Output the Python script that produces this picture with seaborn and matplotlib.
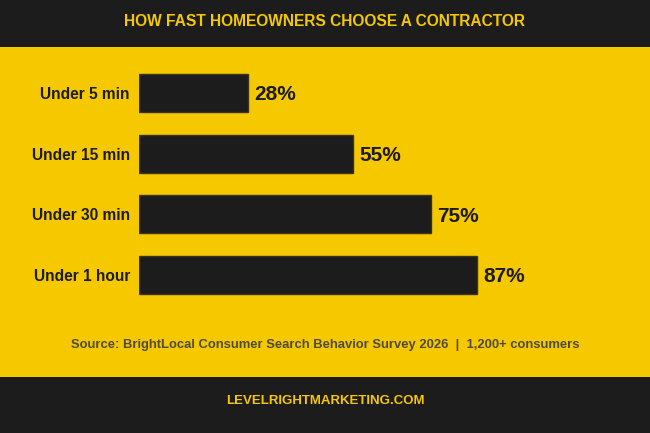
import matplotlib
matplotlib.use("Agg")
import matplotlib.pyplot as plt
import seaborn as sns
import pandas as pd
from matplotlib.patches import Rectangle

categories = ["Under 5 min", "Under 15 min", "Under 30 min", "Under 1 hour"]
values = [28, 55, 75, 87]
value_labels = ["28%", "55%", "75%", "87%"]

title = "HOW FAST HOMEOWNERS CHOOSE A CONTRACTOR"
source = "Source: BrightLocal Consumer Search Behavior Survey 2026  |  1,200+ consumers"
footer = "LEVELRIGHTMARKETING.COM"

YELLOW = "#F5C800"
DARK = "#1c1c1c"

sns.set_theme(style="white")
plt.rcParams["font.family"] = ["Liberation Sans", "DejaVu Sans"]

df = pd.DataFrame({"cat": categories, "val": values})

W, H = 650, 433
fig = plt.figure(figsize=(6.5, 4.33), dpi=100)
fig.patch.set_facecolor(YELLOW)

# header / footer bands
fig.add_artist(Rectangle((0, 1 - 47 / H), 1, 47 / H, transform=fig.transFigure,
                         facecolor=DARK, edgecolor="none", zorder=0))
fig.add_artist(Rectangle((0, 0), 1, 56 / H, transform=fig.transFigure,
                         facecolor=DARK, edgecolor="none", zorder=0))

ax = fig.add_axes([139 / W, 1 - 305.3 / H, 389 / W, (305.3 - 62.7) / H])
ax.set_facecolor("none")
sns.barplot(data=df, x="val", y="cat", ax=ax, color=DARK, width=0.63,
            edgecolor="#3a3320", linewidth=1, saturation=1)
ax.set_xlim(0, 100)
ax.set_ylim(3.5, -0.5)
ax.set_xlabel("")
ax.set_ylabel("")
ax.set_xticks([])
for s in ax.spines.values():
    s.set_visible(False)
ax.tick_params(axis="y", length=0, pad=6.5)
for lbl in ax.get_yticklabels():
    lbl.set_fontsize(11.2)
    lbl.set_fontweight("bold")
    lbl.set_color(DARK)

for i, (v, t) in enumerate(zip(values, value_labels)):
    ax.text(v + 1.6, i + 0.03, t, va="center", ha="left", fontsize=15,
            fontweight="bold", color=DARK)

fig.text(0.5, 1 - 22 / H, title, ha="center", va="center", fontsize=11.2,
         fontweight="bold", color=YELLOW)
fig.text(0.5, 1 - 345 / H, source, ha="center", va="center", fontsize=9.4,
         fontweight="bold", color="#4f4a3a")
fig.text(0.5, 1 - 401 / H, footer, ha="center", va="center", fontsize=9.5,
         fontweight="bold", color=YELLOW)

fig.savefig("out.png", dpi=100, facecolor=fig.get_facecolor())
